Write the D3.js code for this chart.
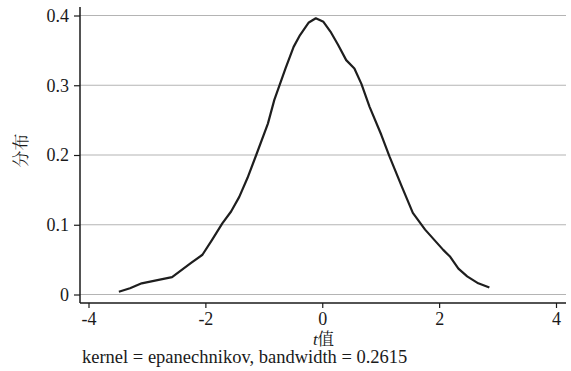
<!DOCTYPE html>
<html>
<head>
<meta charset="utf-8">
<script src="https://cdn.jsdelivr.net/npm/d3@7"></script>
</head>
<body style="margin:0">
<svg id="chart" width="571" height="371"></svg>
<script>
// density estimate
const tValues = [-3.48, -3.29, -3.09, -2.80, -2.57, -2.25, -2.05, -1.88, -1.71, -1.56, -1.42, -1.28, -1.13,
    -0.93, -0.82, -0.63, -0.49, -0.38, -0.23, -0.11, 0.02, 0.14, 0.27, 0.41, 0.55, 0.67, 0.81, 1.01, 1.15,
    1.36, 1.55, 1.76, 2.07, 2.19, 2.33, 2.48, 2.67, 2.86];
const density = [0.004, 0.009, 0.016, 0.021, 0.025, 0.045, 0.057, 0.079, 0.102, 0.119, 0.140, 0.167, 0.200,
    0.245, 0.279, 0.324, 0.355, 0.372, 0.390, 0.396, 0.391, 0.377, 0.358, 0.336, 0.324, 0.302, 0.269, 0.229, 0.198,
    0.155, 0.117, 0.093, 0.064, 0.054, 0.037, 0.026, 0.016, 0.010];
const xTicks = [-4, -2, 0, 2, 4];
const yTicks = [0, 0.1, 0.2, 0.3, 0.4];

const xTitle = "值";
const yTitle = "分布";
const note = "kernel = epanechnikov, bandwidth = 0.2615";

const latinFont = "\"Times New Roman\"";
const cjkFont = "\"Noto Serif CJK SC\"";
const ink = "#1a1a1a";

const plot = { left: 80, right: 566, top: 7, bottom: 303 };

const svg = d3.select("#chart").style("font-family", latinFont);

const scaleX = d3.scaleLinear().domain([-4, 4]).range([88.5, 556]);
const scaleY = d3.scaleLinear().domain([0, 0.4]).range([294.5, 15.5]);

// grid lines
svg.append("g")
    .attr("class", "gridLines")
    .selectAll("line")
    .data(yTicks)
    .join("line")
    .attr("x1", plot.left)
    .attr("x2", plot.right)
    .attr("y1", (d) => scaleY(d))
    .attr("y2", (d) => scaleY(d))
    .attr("stroke", "#b4b4b4")
    .attr("stroke-width", 1.2);

// y axis
const yAxis = d3.axisLeft(scaleY).tickValues(yTicks).tickSize(6).tickPadding(5)
    .tickFormat((d) => (d === 0 ? "0" : d3.format(".1f")(d)));
const gy = svg.append("g")
    .attr("class", "yAxis")
    .attr("transform", `translate(${plot.left}, 0)`)
    .call(yAxis);
gy.attr("font-family", null).attr("font-size", null);
gy.select(".domain").remove();
gy.selectAll(".tick line").attr("stroke", ink).attr("stroke-width", 1.2);
gy.selectAll(".tick text").style("font-family", latinFont).style("font-size", "18px").attr("fill", ink);
svg.append("line")
    .attr("x1", plot.left).attr("x2", plot.left)
    .attr("y1", plot.top).attr("y2", plot.bottom)
    .attr("stroke", ink).attr("stroke-width", 1.5);

// x axis
const xAxis = d3.axisBottom(scaleX).tickValues(xTicks).tickSize(5).tickPadding(4).tickFormat(d3.format("d"));
const gx = svg.append("g")
    .attr("class", "xAxis")
    .attr("transform", `translate(0, ${plot.bottom})`)
    .call(xAxis);
gx.attr("font-family", null).attr("font-size", null);
gx.select(".domain").remove();
gx.selectAll(".tick line").attr("stroke", ink).attr("stroke-width", 1.2);
gx.selectAll(".tick text").style("font-family", latinFont).style("font-size", "18px").attr("fill", ink)
    .text((d) => (d < 0 ? "-" + Math.abs(d) : d));
svg.append("line")
    .attr("x1", plot.left).attr("x2", plot.right)
    .attr("y1", plot.bottom).attr("y2", plot.bottom)
    .attr("stroke", ink).attr("stroke-width", 1.5);

// the curve
const points = tValues.map((t, i) => ({ t, value: density[i] }));
const lineGenerator = d3.line()
    .x((d) => scaleX(d.t))
    .y((d) => scaleY(d.value));
svg.append("path")
    .datum(points)
    .attr("fill", "none")
    .attr("stroke", "#1e1e1e")
    .attr("stroke-width", 2.2)
    .attr("stroke-linejoin", "round")
    .attr("d", lineGenerator);

// titles
const xLabel = svg.append("text")
    .attr("x", 323.5)
    .attr("y", 345)
    .attr("text-anchor", "middle")
    .attr("fill", ink)
    .style("font-family", latinFont)
    .style("font-size", "17px");
xLabel.append("tspan").style("font-style", "italic").text("t");
xLabel.append("tspan").style("font-family", cjkFont).style("font-size", "16.5px").text(xTitle);

svg.append("text")
    .attr("transform", "translate(27, 150.5) rotate(-90)")
    .attr("text-anchor", "middle")
    .attr("fill", ink)
    .style("font-family", cjkFont)
    .style("font-size", "17px")
    .text(yTitle);

svg.append("text")
    .attr("x", 82)
    .attr("y", 362.5)
    .attr("fill", ink)
    .style("font-family", latinFont)
    .style("font-size", "18.5px")
    .text(note);
</script>
</body>
</html>
